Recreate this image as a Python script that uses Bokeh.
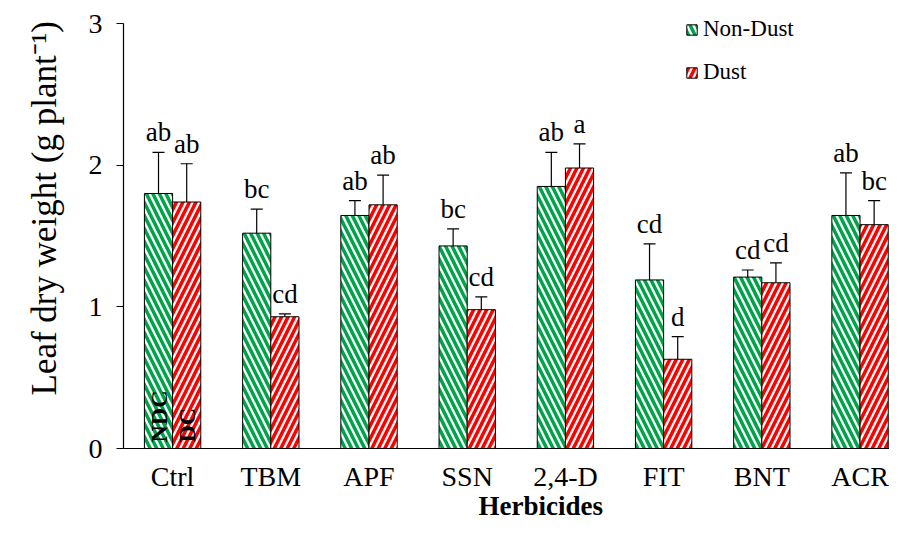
import math
from bokeh.plotting import figure
from bokeh.models import ColumnDataSource, Whisker, TeeHead, Range1d, FixedTicker, Title
from bokeh.core.properties import value
from bokeh.embed import file_html
from bokeh.resources import INLINE

# ---- data ----
herbicides = ["Ctrl", "TBM", "APF", "SSN", "2,4-D", "FIT", "BNT", "ACR"]
nondust = [1.80, 1.52, 1.645, 1.43, 1.85, 1.19, 1.21, 1.645]
nondust_err = [0.29, 0.17, 0.105, 0.12, 0.24, 0.255, 0.05, 0.30]
dust = [1.74, 0.93, 1.72, 0.98, 1.98, 0.63, 1.17, 1.58]
dust_err = [0.27, 0.02, 0.21, 0.09, 0.17, 0.16, 0.14, 0.17]
nondust_letters = ["ab", "bc", "ab", "bc", "ab", "cd", "cd", "ab"]
dust_letters = ["ab", "cd", "ab", "cd", "a", "d", "cd", "bc"]
bar_tags = ["NDC", "DC"]
yticks = [0, 1, 2, 3]
x_title = "Herbicides"
y_title = "Leaf dry weight (g plant\u207b\u00b9)"

FONT = "Liberation Serif"
GREEN = "#00a24a"
RED = "#ff0000"
BW = 0.287
centers = [i + 0.5 for i in range(len(herbicides))]

src_nd = ColumnDataSource(dict(
    x=[c - BW / 2 for c in centers], top=nondust,
    upper=[v + e for v, e in zip(nondust, nondust_err)],
    lower=[v - e for v, e in zip(nondust, nondust_err)],
    lab=nondust_letters))
src_d = ColumnDataSource(dict(
    x=[c + BW / 2 for c in centers], top=dust,
    upper=[v + e for v, e in zip(dust, dust_err)],
    lower=[v - e for v, e in zip(dust, dust_err)],
    lab=dust_letters))

# frame spans a little above 3 so the legend is not clipped; axis stops at 3
p = figure(width=889, height=521, output_backend="svg", toolbar_location=None,
           x_range=Range1d(0, 7.8), y_range=Range1d(0, 3.106),
           min_border_left=122, min_border_right=0, min_border_top=8,
           min_border_bottom=73)
p.outline_line_color = None
p.grid.visible = False
p.background_fill_color = "white"

p.vbar(x="x", top="top", width=BW, source=src_nd, fill_color="white",
       line_color="black", line_width=1, hatch_pattern="left_diagonal_line",
       hatch_color=GREEN, hatch_scale=13, hatch_weight=3.5,
       legend_label="Non-Dust")
p.vbar(x="x", top="top", width=BW, source=src_d, fill_color="white",
       line_color="black", line_width=1, hatch_pattern="right_diagonal_line",
       hatch_color=RED, hatch_scale=13, hatch_weight=3.5,
       legend_label="Dust")

for src in (src_nd, src_d):
    w = Whisker(base="x", upper="upper", lower="lower", source=src,
                dimension="height", line_color="black", line_width=1.2,
                upper_head=TeeHead(size=12, line_color="black", line_width=1.2),
                lower_head=TeeHead(size=12, line_color="black", line_width=1.2))
    p.add_layout(w)
    p.text(x="x", y="upper", text="lab", source=src, text_align="center",
           text_baseline="alphabetic", y_offset=-20,
           text_font=value(FONT), text_font_size="27px", text_color="black")

# NDC / DC tags inside the control bars
p.text(x=[src_nd.data["x"][0], src_d.data["x"][0]], y=[0, 0], text=bar_tags,
       angle=math.pi / 2, text_align="left", text_baseline="middle",
       y_offset=-6, text_font=value(FONT), text_font_size="24px",
       text_font_style="bold", text_color="black")

# axes
p.xaxis.ticker = FixedTicker(ticks=centers)
p.xaxis.major_label_overrides = {c: h for c, h in zip(centers, herbicides)}
p.xaxis.major_tick_line_color = None
p.xaxis.minor_tick_line_color = None
p.xaxis.major_tick_out = 0
p.xaxis.major_label_standoff = 12

p.yaxis.ticker = FixedTicker(ticks=yticks)
p.yaxis.bounds = (0, 3)
p.yaxis.major_tick_out = 7
p.yaxis.major_tick_in = 0
p.yaxis.minor_tick_line_color = None
p.yaxis.major_label_standoff = 14
p.yaxis.major_tick_line_color = "black"

for ax in (p.xaxis, p.yaxis):
    ax.axis_line_color = "black"
    ax.axis_line_width = 1.2
    ax.major_label_text_font = FONT
    ax.major_label_text_font_size = "28px"
    ax.major_label_text_color = "black"

# axis titles as side titles (they can be shifted along the axis)
p.add_layout(Title(text=x_title, align="left", offset=355, standoff=-12,
                   text_font=FONT, text_font_size="27px",
                   text_font_style="bold", text_color="black"), "below")
p.add_layout(Title(text=y_title, align="left", offset=53, standoff=44,
                   text_font=FONT, text_font_size="35px",
                   text_font_style="normal", text_color="black"), "left")

leg = p.legend[0]
leg.location = (562, 363)
leg.label_text_font = FONT
leg.label_text_font_size = "23px"
leg.label_text_color = "black"
leg.glyph_width = 13
leg.glyph_height = 13
leg.label_standoff = 5
leg.spacing = 17
leg.padding = 0
leg.margin = 0
leg.label_height = 20
leg.border_line_color = None
leg.background_fill_alpha = 0

open("out.html", "w").write(file_html(p, INLINE))
